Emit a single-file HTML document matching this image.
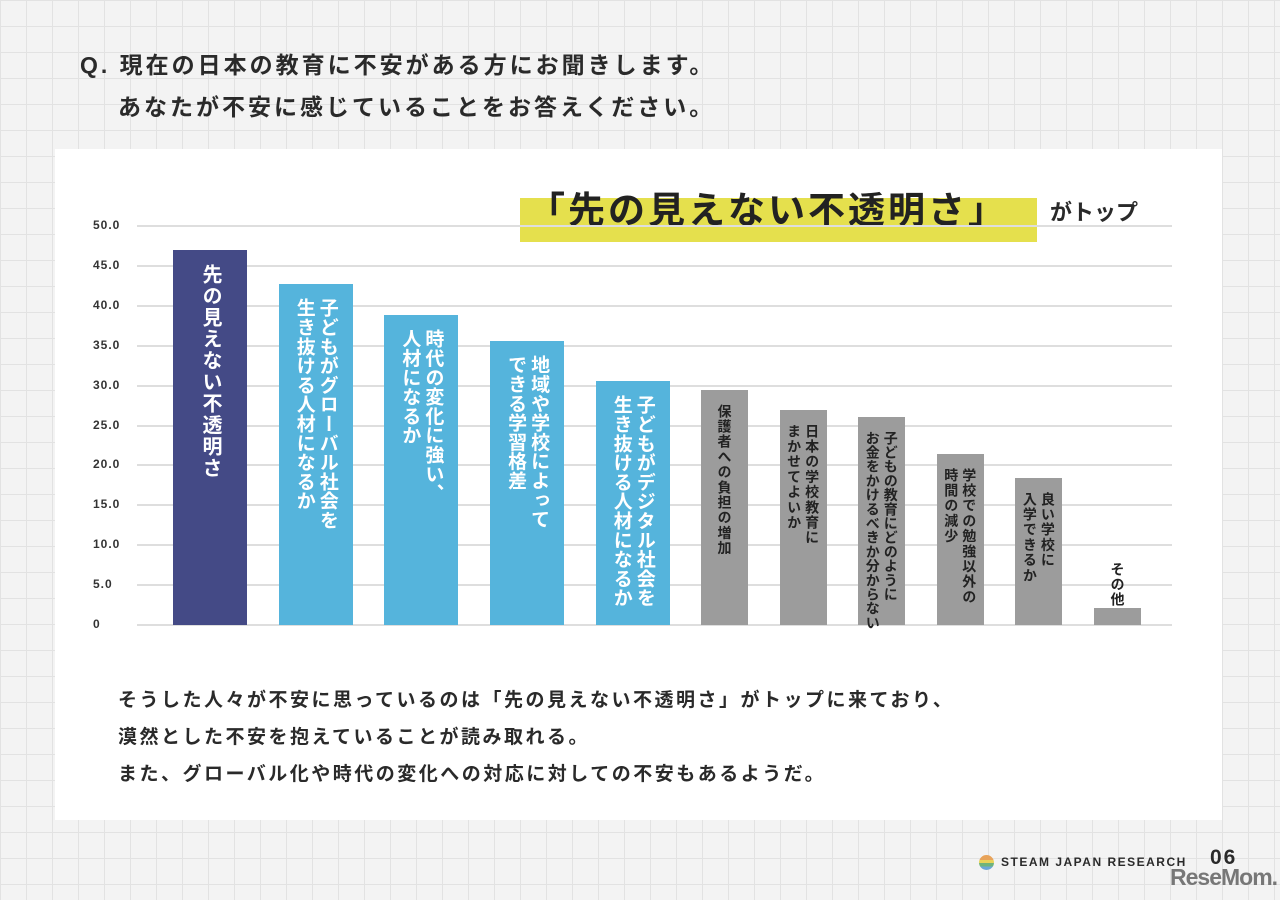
<!DOCTYPE html>
<html><head><meta charset="utf-8">
<style>
*{margin:0;padding:0;box-sizing:border-box}
body{width:1280px;height:900px;overflow:hidden;font-family:"Liberation Sans","Noto Sans CJK JP",sans-serif;
background-color:#f3f3f3;
background-image:linear-gradient(#e2e2e2 1px,transparent 1px),linear-gradient(90deg,#e2e2e2 1px,transparent 1px);
background-size:26px 26px;position:relative;color:#2a2a2a}
.abs{position:absolute}
.q{left:80px;top:44px;font-size:23px;font-weight:bold;line-height:42px;letter-spacing:3px;white-space:nowrap}
.card{left:55px;top:149px;width:1167px;height:671px;background:#fff}
.grid{position:absolute;height:2px;background:#dedede;left:137px;width:1035px}
.tick{position:absolute;left:93px;font-size:12px;font-weight:bold;color:#333;letter-spacing:1px}
.bar{position:absolute}
.lab{position:absolute;writing-mode:vertical-rl;font-weight:bold;white-space:nowrap}
.body{left:118px;top:682px;font-size:19px;font-weight:bold;line-height:37px;letter-spacing:2.5px;white-space:nowrap}
</style></head><body>
<div class="abs q">Q. 現在の日本の教育に不安がある方にお聞きします。<br><span style="padding-left:38px">あなたが不安に感じていることをお答えください。</span></div>
<div class="abs card"></div>
<div class="abs" style="left:520px;top:198px;width:517px;height:44px;background:#e5e04d"></div>
<div class="abs" style="left:528px;top:180px;font-size:37px;font-weight:bold;letter-spacing:3px;color:#222;white-space:nowrap">「先の見えない不透明さ」</div>
<div class="abs" style="left:1050px;top:195px;font-size:22px;font-weight:bold">がトップ</div>
<div id="chart"></div>
<div class="abs body">そうした人々が不安に思っているのは「先の見えない不透明さ」がトップに来ており、<br>漠然とした不安を抱えていることが読み取れる。<br>また、グローバル化や時代の変化への対応に対しての不安もあるようだ。</div>
<div class="abs" style="left:979px;top:855px;width:15px;height:15px;border-radius:50%;background:linear-gradient(#e8a35a 0 33%,#e8d35a 33% 55%,#6fb47a 55% 78%,#6aa7d8 78%)"></div>
<div class="abs" style="left:1001px;top:855px;font-size:12px;font-weight:bold;letter-spacing:1.5px;white-space:nowrap">STEAM JAPAN RESEARCH</div>
<div class="abs" style="left:1210px;top:846px;font-size:21px;font-weight:bold;letter-spacing:2px">06</div>
<div class="abs" style="left:1170px;top:864px;font-size:23px;font-weight:bold;color:#777;letter-spacing:-1px;white-space:nowrap">ReseMom.</div>
<script>
const categories=[["先の見えない不透明さ"],["子どもがグローバル社会を","生き抜ける人材になるか"],["時代の変化に強い、","人材になるか"],["地域や学校によって","できる学習格差"],["子どもがデジタル社会を","生き抜ける人材になるか"],["保護者への負担の増加"],["日本の学校教育に","まかせてよいか"],["子どもの教育にどのように","お金をかけるべきか分からない"],["学校での勉強以外の","時間の減少"],["良い学校に","入学できるか"],["その他"]];
const values=[47.0,42.7,38.8,35.6,30.6,29.4,26.9,26.1,21.4,18.4,2.1];
const tickValues=[0,5,10,15,20,25,30,35,40,45,50];
const tickLabels=["0","5.0","10.0","15.0","20.0","25.0","30.0","35.0","40.0","45.0","50.0"];
const colors=["#444a86","#55b4dc","#55b4dc","#55b4dc","#55b4dc","#9c9c9c","#9c9c9c","#9c9c9c","#9c9c9c","#9c9c9c","#9c9c9c"];
const y0=625,y1=226;
const y=v=>y0-(v/50)*(y0-y1);
const xs=i=>i<5?173+i*105.7:701+(i-5)*78.6;
const ws=i=>i<5?74:47;
const c=document.getElementById('chart');
tickValues.forEach((t,i)=>{
 const g=document.createElement('div');g.className='grid';g.style.top=(y(t)-1)+'px';
 
 
 c.appendChild(g);
 const l=document.createElement('div');l.className='tick';l.style.top=(y(t)-8)+'px';l.textContent=tickLabels[i];
 
 
 c.appendChild(l);
});
values.forEach((v,i)=>{
 const b=document.createElement('div');b.className='bar';
 b.style.left=xs(i)+'px';b.style.width=ws(i)+'px';b.style.top=y(v)+'px';b.style.height=(y0-y(v))+'px';b.style.background=colors[i];
 
 
 c.appendChild(b);
 const big=i<5;const fs=i===0?20:(big?19:14);
 const lab=document.createElement('div');lab.className='lab';
 lab.style.fontSize=fs+'px';lab.style.lineHeight=(fs+4)+'px';
 lab.style.letterSpacing=(i===0?1.5:(big?0.3:(i===7?0.2:1.2)))+'px';
 lab.style.color=big?'#fff':'#222';
 lab.innerHTML=categories[i].join('<br>');
 const n=categories[i].length;const w=n*(fs+4);
 lab.style.left=(xs(i)+ws(i)/2-w/2)+'px';
 lab.style.top=(i===10?y(v)-46:y(v)+14)+'px';
 
 
 c.appendChild(lab);
});
</script>
</body></html>
